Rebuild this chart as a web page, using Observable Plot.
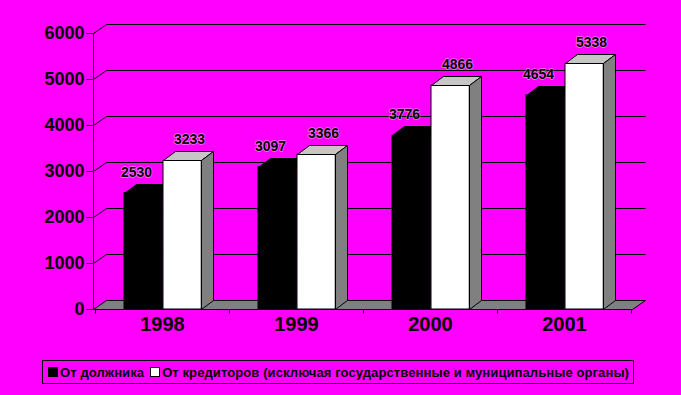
<!DOCTYPE html>
<html><head><meta charset="utf-8">
<script src="https://cdn.jsdelivr.net/npm/d3@7"></script>
<script src="https://cdn.jsdelivr.net/npm/@observablehq/plot@0.6"></script>
<style>
html,body{margin:0;padding:0;background:#ff00ff;}
#wrap{position:relative;width:681px;height:395px;overflow:hidden;background:#ff00ff;}
#chart svg{display:block;}
#legend{position:absolute;left:42px;top:360px;width:590px;height:22px;border:1px solid #000;
  font:bold 13px "Liberation Sans",Arial,sans-serif;letter-spacing:0.1px;color:#000;display:flex;align-items:center;white-space:nowrap;box-sizing:content-box;}
.sw{display:inline-block;width:8px;height:8px;border:1px solid #000;margin:0 2px 0 5px;}
</style></head><body>
<div id="wrap"><div id="chart"></div><div id="legend"></div></div>
<script>
// ---- data ----
const years = ["1998", "1999", "2000", "2001"];
const debtor = [2530, 3097, 3776, 4654];
const creditors = [3233, 3366, 4866, 5338];
const seriesNames = ["От должника", "От кредиторов (исключая государственные и муниципальные органы)"];
const yTicks = [0, 1000, 2000, 3000, 4000, 5000, 6000];
const yDomain = [0, 6000];

// ---- layout / style ----
const W = 681, H = 350, ML = 93, MR = 49, MT = 33, MB = 41;
const BW = (W - ML - MR) / years.length;
const BLK = [29 / 134.75, 68 / 134.75];   // fraction of band for black bar
const WHT = [68 / 134.75, 107 / 134.75];  // fraction of band for white bar
const DX = 13, DY = -9;    // wall depth
const BDX = 12, BDY = -9;  // bar depth
const FONT = "'Liberation Sans', Arial, sans-serif";
const NARROW = "'Liberation Sans Narrow', 'Arial Narrow', 'Liberation Sans', Arial, sans-serif";

const blackRows = years.map((y, i) => ({year: y, value: debtor[i]}));
const whiteRows = years.map((y, i) => ({year: y, value: creditors[i]}));

const px = v => Math.round(v) + 0.5;

function frame3d(index, {x, y}) {
  const g = d3.create("svg:g");
  const [r0, r1] = x.range();
  const y0 = y(0);
  g.append("path")
    .attr("d", `M${px(r0)},${px(y0)}L${px(r1)},${px(y0)}L${px(r1 + DX)},${px(y0 + DY)}L${px(r0 + DX)},${px(y0 + DY)}Z`)
    .attr("fill", "#808080").attr("stroke", "#000");
  for (const t of yTicks) {
    const yy = y(t);
    if (t > 0) {
      g.append("path")
        .attr("d", `M${px(r0)},${px(yy)}L${px(r0 + DX)},${px(yy + DY)}L${px(r1 + DX)},${px(yy + DY)}`)
        .attr("fill", "none").attr("stroke", "#000");
    }
    g.append("line").attr("x1", px(r0) - 7).attr("x2", px(r0)).attr("y1", px(yy)).attr("y2", px(yy)).attr("stroke", "#000");
  }
  g.append("line").attr("x1", px(r0)).attr("x2", px(r0)).attr("y1", px(y(yDomain[1]))).attr("y2", px(y0)).attr("stroke", "#000");
  const bw = x.bandwidth();
  for (let i = 0; i <= years.length; i++) {
    const xx = i < years.length ? x(years[i]) : x(years[years.length - 1]) + bw;
    g.append("line").attr("x1", px(xx)).attr("x2", px(xx)).attr("y1", px(y0)).attr("y2", px(y0) + 4).attr("stroke", "#000");
  }
  return g.node();
}

function faces(rows, frac, withSide, topFill) {
  return function(index, {x, y}) {
    const g = d3.create("svg:g");
    const bw = x.bandwidth();
    const y0 = y(0);
    for (const d of rows) {
      const x1 = x(d.year) + frac[0] * bw, x2 = x(d.year) + frac[1] * bw, yt = y(d.value);
      g.append("path")
        .attr("d", `M${px(x1)},${px(yt)}L${px(x2)},${px(yt)}L${px(x2 + BDX)},${px(yt + BDY)}L${px(x1 + BDX)},${px(yt + BDY)}Z`)
        .attr("fill", topFill).attr("stroke", "#000");
      if (withSide) {
        g.append("path")
          .attr("d", `M${px(x2)},${px(yt)}L${px(x2 + BDX)},${px(yt + BDY)}L${px(x2 + BDX)},${px(y0 + BDY)}L${px(x2)},${px(y0)}Z`)
          .attr("fill", "#808080").attr("stroke", "#000");
      }
    }
    return g.node();
  };
}

const labelStyle = {fontSize: 14, fontWeight: "bold", fontFamily: NARROW, fill: "#000",
  stroke: "#fff", strokeWidth: 1.5, strokeOpacity: 0.45};

const plot = Plot.plot({
  width: W, height: H,
  marginLeft: ML, marginRight: MR, marginTop: MT, marginBottom: MB,
  style: {background: "transparent", overflow: "visible", fontFamily: FONT},
  x: {domain: years, padding: 0, axis: null},
  y: {domain: yDomain, axis: null},
  marks: [
    frame3d,
    Plot.barY(blackRows, {x: "year", y: "value", fill: "#000", stroke: "#000",
      insetLeft: BLK[0] * BW, insetRight: (1 - BLK[1]) * BW}),
    faces(blackRows, BLK, false, "#000"),
    Plot.barY(whiteRows, {x: "year", y: "value", fill: "#fff", stroke: "#000",
      insetLeft: WHT[0] * BW, insetRight: (1 - WHT[1]) * BW}),
    faces(whiteRows, WHT, true, "#c6c6c6"),
    Plot.text(blackRows, {x: "year", y: "value", text: d => String(d.value), dx: -26, dy: -21, ...labelStyle}),
    Plot.text(whiteRows, {x: "year", y: "value", text: d => String(d.value), dx: 27, dy: -21, ...labelStyle}),
    Plot.text(years, {x: d => d, frameAnchor: "bottom", dy: 21, text: d => d,
      fontSize: 20, fontWeight: "bold", fill: "#000"}),
    Plot.text(yTicks, {y: d => d, frameAnchor: "left", dx: -9, text: d => String(d), textAnchor: "end",
      fontSize: 18, fontWeight: "bold", fill: "#000"})
  ]
});
document.getElementById("chart").appendChild(plot);

// legend
const lg = document.getElementById("legend");
const colors = ["#000", "#fff"];
seriesNames.forEach((name, i) => {
  const sw = document.createElement("span");
  sw.className = "sw";
  sw.style.background = colors[i];
  if (i > 0) sw.style.marginLeft = "6px";
  lg.appendChild(sw);
  const t = document.createElement("span");
  t.textContent = name;
  lg.appendChild(t);
});
</script>
</body></html>
